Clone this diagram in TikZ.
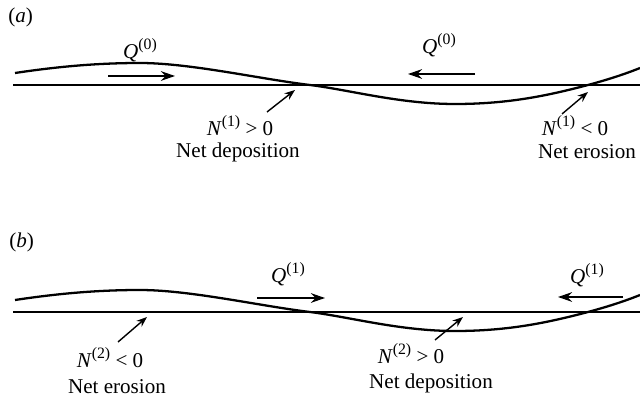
\documentclass[tikz,border=0pt]{standalone}
\usepackage{fontspec}
\setmainfont{Liberation Serif}
\usetikzlibrary{arrows.meta}
\newcommand\upidx[1]{\raisebox{0.42em}{\fontsize{9}{10}\selectfont #1}}

\begin{document}
\begin{tikzpicture}[x=0.02cm,y=-0.02cm,>={Stealth[length=8pt,width=5.5pt]},
  lab/.style={font=\fontsize{12}{14}\selectfont,inner sep=0pt},
  bed/.style={line width=1.4pt},
  wave/.style={line width=1.3pt},
  flux/.style={->,line width=1.1pt},
  pointer/.style={-{Stealth[length=6pt,width=4.5pt]},line width=0.8pt}]
\useasboundingbox[fill=white] (0,0) rectangle (640,402);
% flat bed and perturbed bed, same shape in both panels
\foreach \base in {85,312}{
  \draw[bed] (13,\base) -- (640,\base);
  \draw[wave] (15,\base-12) .. controls (55,\base-18) and (95,\base-22) .. (140,\base-22)
    .. controls (190,\base-22) and (260,\base-6) .. (310,\base)
    .. controls (350,\base+5) and (400,\base+19) .. (455,\base+19)
    .. controls (510,\base+19) and (550,\base+10) .. (588,\base)
    .. controls (610,\base-6) and (625,\base-11) .. (640,\base-17);
}
% (a)
\node[lab,anchor=west] (taga) at (8,17) {(\textit{a})};
\node[lab] (qa1) at (140,50) {\textit{Q}\upidx{(0)}};
\node[lab] (qa2) at (439,45) {\textit{Q}\upidx{(0)}};
\coordinate (qa1s) at (108,76);
\coordinate (qa1e) at (175,76);
\coordinate (qa2s) at (475,74);
\coordinate (qa2e) at (408,74);
\draw[flux] (qa1s) -- (qa1e);
\draw[flux] (qa2s) -- (qa2e);
\node[lab] (na1) at (240,126) {\textit{N}\upidx{(1)} > 0};
\node[lab] (da1) at (238,152) {Net deposition};
\node[lab] (na2) at (575,126) {\textit{N}\upidx{(1)} < 0};
\node[lab] (ea2) at (587,152) {Net erosion};
\coordinate (pa1s) at (267,112);
\coordinate (pa1e) at (295,90);
\coordinate (pa2s) at (562,114);
\coordinate (pa2e) at (588,92);
\draw[pointer] (pa1s) -- (pa1e);
\draw[pointer] (pa2s) -- (pa2e);
% (b)
\node[lab,anchor=west] (tagb) at (9,242) {(\textit{b})};
\node[lab] (qb1) at (288,274) {\textit{Q}\upidx{(1)}};
\node[lab] (qb2) at (587,275) {\textit{Q}\upidx{(1)}};
\coordinate (qb1s) at (257,298);
\coordinate (qb1e) at (325,298);
\coordinate (qb2s) at (623,297);
\coordinate (qb2e) at (558,297);
\draw[flux] (qb1s) -- (qb1e);
\draw[flux] (qb2s) -- (qb2e);
\node[lab] (nb1) at (110,358) {\textit{N}\upidx{(2)} < 0};
\node[lab] (eb1) at (117,387) {Net erosion};
\node[lab] (nb2) at (411,354) {\textit{N}\upidx{(2)} > 0};
\node[lab] (db2) at (431,383) {Net deposition};
\coordinate (pb1s) at (118,342);
\coordinate (pb1e) at (147,317);
\coordinate (pb2s) at (435,340);
\coordinate (pb2e) at (463,317);
\draw[pointer] (pb1s) -- (pb1e);
\draw[pointer] (pb2s) -- (pb2e);
\end{tikzpicture}
\end{document}
